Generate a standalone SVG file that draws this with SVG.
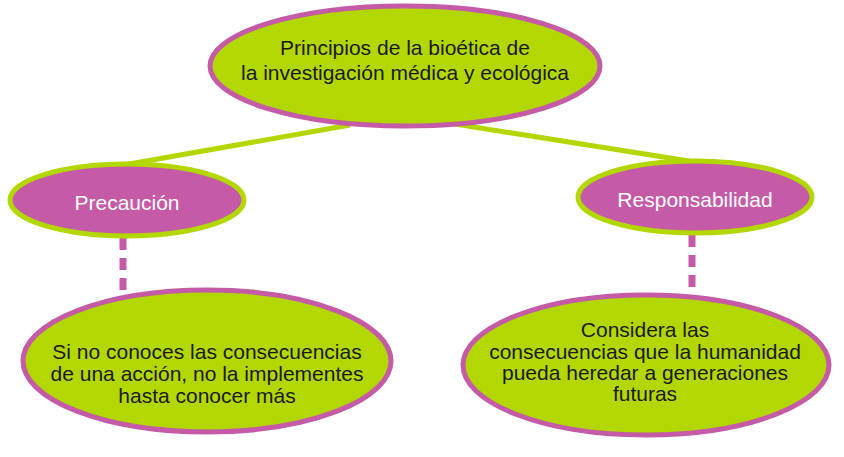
<svg xmlns="http://www.w3.org/2000/svg" width="844" height="457" viewBox="0 0 844 457">
<style>
.main{fill:#B3D700;stroke:#C55BA7;stroke-width:5}
.mid{fill:#C55BA7;stroke:#B3D700;stroke-width:5}
.solid{stroke:#B3D700;stroke-width:5;fill:none}
.dash{stroke:#C55BA7;stroke-width:7;stroke-dasharray:12 8;fill:none}
text{font-family:"Liberation Sans",Arial,sans-serif;font-size:21px;text-anchor:middle;fill:#1a1a1a}
.w{fill:#ffffff}
</style>
<rect width="844" height="457" fill="#ffffff"/>
<g id="connectors">
<line class="solid" x1="350" y1="125" x2="118" y2="166"/>
<line class="solid" x1="455" y1="124" x2="695" y2="162"/>
<line class="dash" x1="123" y1="238" x2="123" y2="297"/>
<line class="dash" x1="692" y1="235" x2="692" y2="295"/>
</g>
<g id="n-root">
<ellipse class="main" cx="405" cy="66" rx="195" ry="60"/>
<text x="405" y="55">Principios de la bioética de</text>
<text x="405" y="80">la investigación médica y ecológica</text>
</g>
<g id="n-precaucion">
<ellipse class="mid" cx="127" cy="200" rx="117" ry="36"/>
<text class="w" x="127" y="210">Precaución</text>
</g>
<g id="n-responsabilidad">
<ellipse class="mid" cx="695" cy="197" rx="117" ry="36"/>
<text class="w" x="695" y="207">Responsabilidad</text>
</g>
<g id="n-precaucion-def">
<ellipse class="main" cx="207" cy="361" rx="184" ry="71"/>
<text x="207" y="359">Si no conoces las consecuencias</text>
<text x="207" y="381">de una acción, no la implementes</text>
<text x="207" y="403">hasta conocer más</text>
</g>
<g id="n-responsabilidad-def">
<ellipse class="main" cx="646" cy="365" rx="183" ry="70"/>
<text x="645" y="337">Considera las</text>
<text x="645" y="359">consecuencias que la humanidad</text>
<text x="645" y="380">pueda heredar a generaciones</text>
<text x="645" y="401">futuras</text>
</g>
</svg>
